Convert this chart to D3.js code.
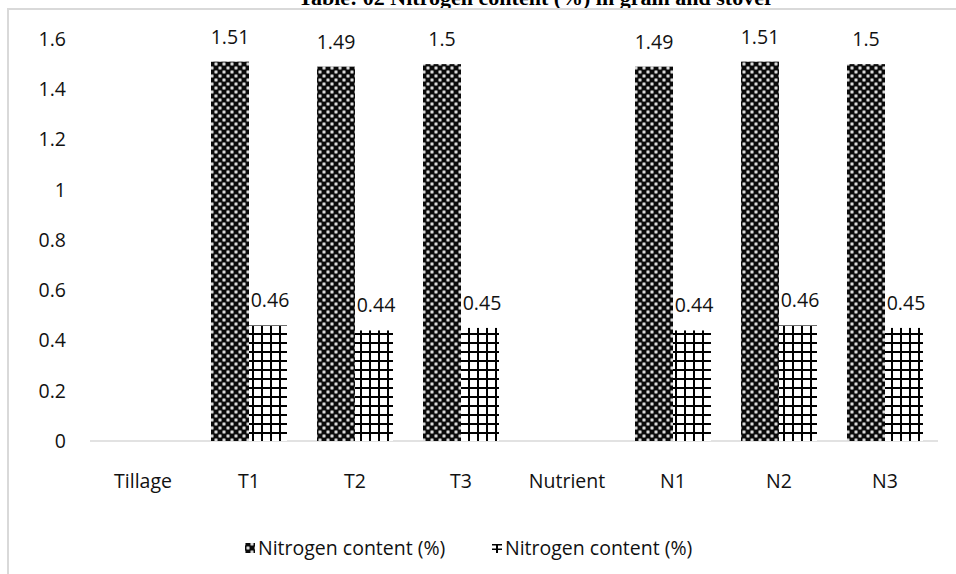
<!DOCTYPE html>
<html>
<head>
<meta charset="utf-8">
<script src="https://cdn.jsdelivr.net/npm/d3@7"></script>
<style>
  html, body { margin: 0; padding: 0; background: #fff; }
  svg { display: block; }
  text { font-family: "Open Sans", Lato, sans-serif; }
</style>
</head>
<body>
<svg id="chart" width="956" height="574"></svg>
<script>
// Nitrogen content (%) in grain and stover, by tillage and nutrient treatment
const categories = ["Tillage", "T1", "T2", "T3", "Nutrient", "N1", "N2", "N3"];
const grainValues = [null, 1.51, 1.49, 1.5, null, 1.49, 1.51, 1.5];
const stoverValues = [null, 0.46, 0.44, 0.45, null, 0.44, 0.46, 0.45];
const seriesNames = ["Nitrogen content (%)", "Nitrogen content (%)"];
const yTicks = [0, 0.2, 0.4, 0.6, 0.8, 1, 1.2, 1.4, 1.6];
const titleText = "Table: 02 Nitrogen content (%) in grain and stover";

const svg = d3.select("#chart");
const W = 956, H = 574;
const FONT = "'Open Sans', Lato, sans-serif";
const FS = "19.5px";

// Patterns: dark "sphere" fill for grain, open grid for stover
const defs = svg.append("defs");
const pDark = defs.append("pattern")
  .attr("id", "patGrain").attr("patternUnits", "userSpaceOnUse")
  .attr("width", 8).attr("height", 8);
pDark.append("rect").attr("width", 8).attr("height", 8).attr("fill", "#0a0a0a");
[[0,0],[8,0],[0,8],[8,8],[4,4]].forEach(([cx, cy]) => {
  pDark.append("circle").attr("cx", cx).attr("cy", cy).attr("r", 2.0).attr("fill", "#8c8c8c");
  pDark.append("circle").attr("cx", cx).attr("cy", cy).attr("r", 1.0).attr("fill", "#f5f5f5");
});

const pGrid = defs.append("pattern")
  .attr("id", "patStover").attr("patternUnits", "userSpaceOnUse")
  .attr("width", 9).attr("height", 9);
pGrid.append("rect").attr("width", 9).attr("height", 9).attr("fill", "#fff");
pGrid.append("rect").attr("x", 0).attr("y", 0).attr("width", 2).attr("height", 9).attr("fill", "#000");
pGrid.append("rect").attr("x", 0).attr("y", 0).attr("width", 9).attr("height", 2).attr("fill", "#000");

// Legend swatch variant of the grid: one vertical stroke, two horizontal
const pGridKey = defs.append("pattern")
  .attr("id", "patStoverKey").attr("patternUnits", "objectBoundingBox")
  .attr("width", 1).attr("height", 1);
pGridKey.append("rect").attr("width", 10).attr("height", 10).attr("fill", "#fff");
pGridKey.append("rect").attr("x", 4).attr("y", 1).attr("width", 2).attr("height", 9).attr("fill", "#000");
pGridKey.append("rect").attr("x", 0).attr("y", 1).attr("width", 10).attr("height", 1.5).attr("fill", "#000");
pGridKey.append("rect").attr("x", 0).attr("y", 5.5).attr("width", 10).attr("height", 1.5).attr("fill", "#000");

// Title (sits above the chart frame)
svg.append("text")
  .attr("x", 536).attr("y", 5)
  .attr("text-anchor", "middle")
  .style("font-family", "'Liberation Serif', 'Times New Roman', serif")
  .style("font-weight", "bold")
  .style("font-size", "22px")
  .attr("fill", "#000")
  .text(titleText);

// Chart frame
svg.append("rect")
  .attr("x", 8).attr("y", 9)
  .attr("width", W + 20).attr("height", H + 20)
  .attr("fill", "none").attr("stroke", "#d9d9d9").attr("stroke-width", 2);

const plot = { left: 90, right: 938, top: 39, bottom: 441 };

const x = d3.scaleBand().domain(categories)
  .range([plot.left, plot.right]).paddingInner(0.283).paddingOuter(0.1415);
const xs = d3.scaleBand().domain([0, 1]).range([0, x.bandwidth()]);
const y = d3.scaleLinear().domain([0, 1.6]).range([plot.bottom, plot.top]);

// Y axis labels
const yAxis = svg.append("g")
  .attr("transform", `translate(${plot.left},0)`)
  .call(d3.axisLeft(y).tickValues(yTicks).tickSize(0).tickPadding(24)
    .tickFormat(d => d3.format("")(d)));
yAxis.select(".domain").remove();
yAxis.selectAll("text").style("font-size", FS).attr("fill", "#111")
  .style("font-family", FONT);

// Baseline
svg.append("line")
  .attr("x1", plot.left).attr("x2", plot.right)
  .attr("y1", y(0)).attr("y2", y(0))
  .attr("stroke", "#d9d9d9").attr("stroke-width", 1.5);

// X axis labels
const xAxis = svg.append("g")
  .attr("transform", `translate(0,${y(0)})`)
  .call(d3.axisBottom(x).tickSize(0).tickPadding(33));
xAxis.select(".domain").remove();
xAxis.selectAll("text").style("font-size", FS).attr("fill", "#111")
  .style("font-family", FONT);

const series = [
  { values: grainValues, fill: "url(#patGrain)" },
  { values: stoverValues, fill: "url(#patStover)" }
];

series.forEach((s, si) => {
  const data = categories.map((c, i) => ({ c, v: s.values[i] })).filter(d => d.v != null);
  const g = svg.append("g");
  g.selectAll("rect").data(data).join("rect")
    .attr("x", d => x(d.c) + xs(si))
    .attr("width", xs.bandwidth())
    .attr("y", d => y(d.v))
    .attr("height", d => y(0) - y(d.v))
    .attr("fill", s.fill);
  g.selectAll("text").data(data).join("text")
    .attr("x", d => x(d.c) + xs(si) + xs.bandwidth() / 2 + (si === 1 ? 2 : 0))
    .attr("y", d => y(d.v) - 18)
    .attr("text-anchor", "middle")
    .style("font-size", FS)
    .style("font-family", FONT)
    .attr("fill", "#111")
    .text(d => d.v);
});

// Legend
const legend = svg.append("g").attr("transform", "translate(0,548)");
const legendItems = [
  { x: 245, fill: "url(#patGrain)", name: seriesNames[0] },
  { x: 492, fill: "url(#patStoverKey)", name: seriesNames[1] }
];
legendItems.forEach(it => {
  legend.append("rect").attr("x", it.x).attr("y", -5).attr("width", 10).attr("height", 10)
    .attr("fill", it.fill);
  legend.append("text").attr("x", it.x + 13).attr("y", 7)
    .style("font-size", FS).style("font-family", FONT)
    .attr("fill", "#111").text(it.name);
});
</script>
</body>
</html>
